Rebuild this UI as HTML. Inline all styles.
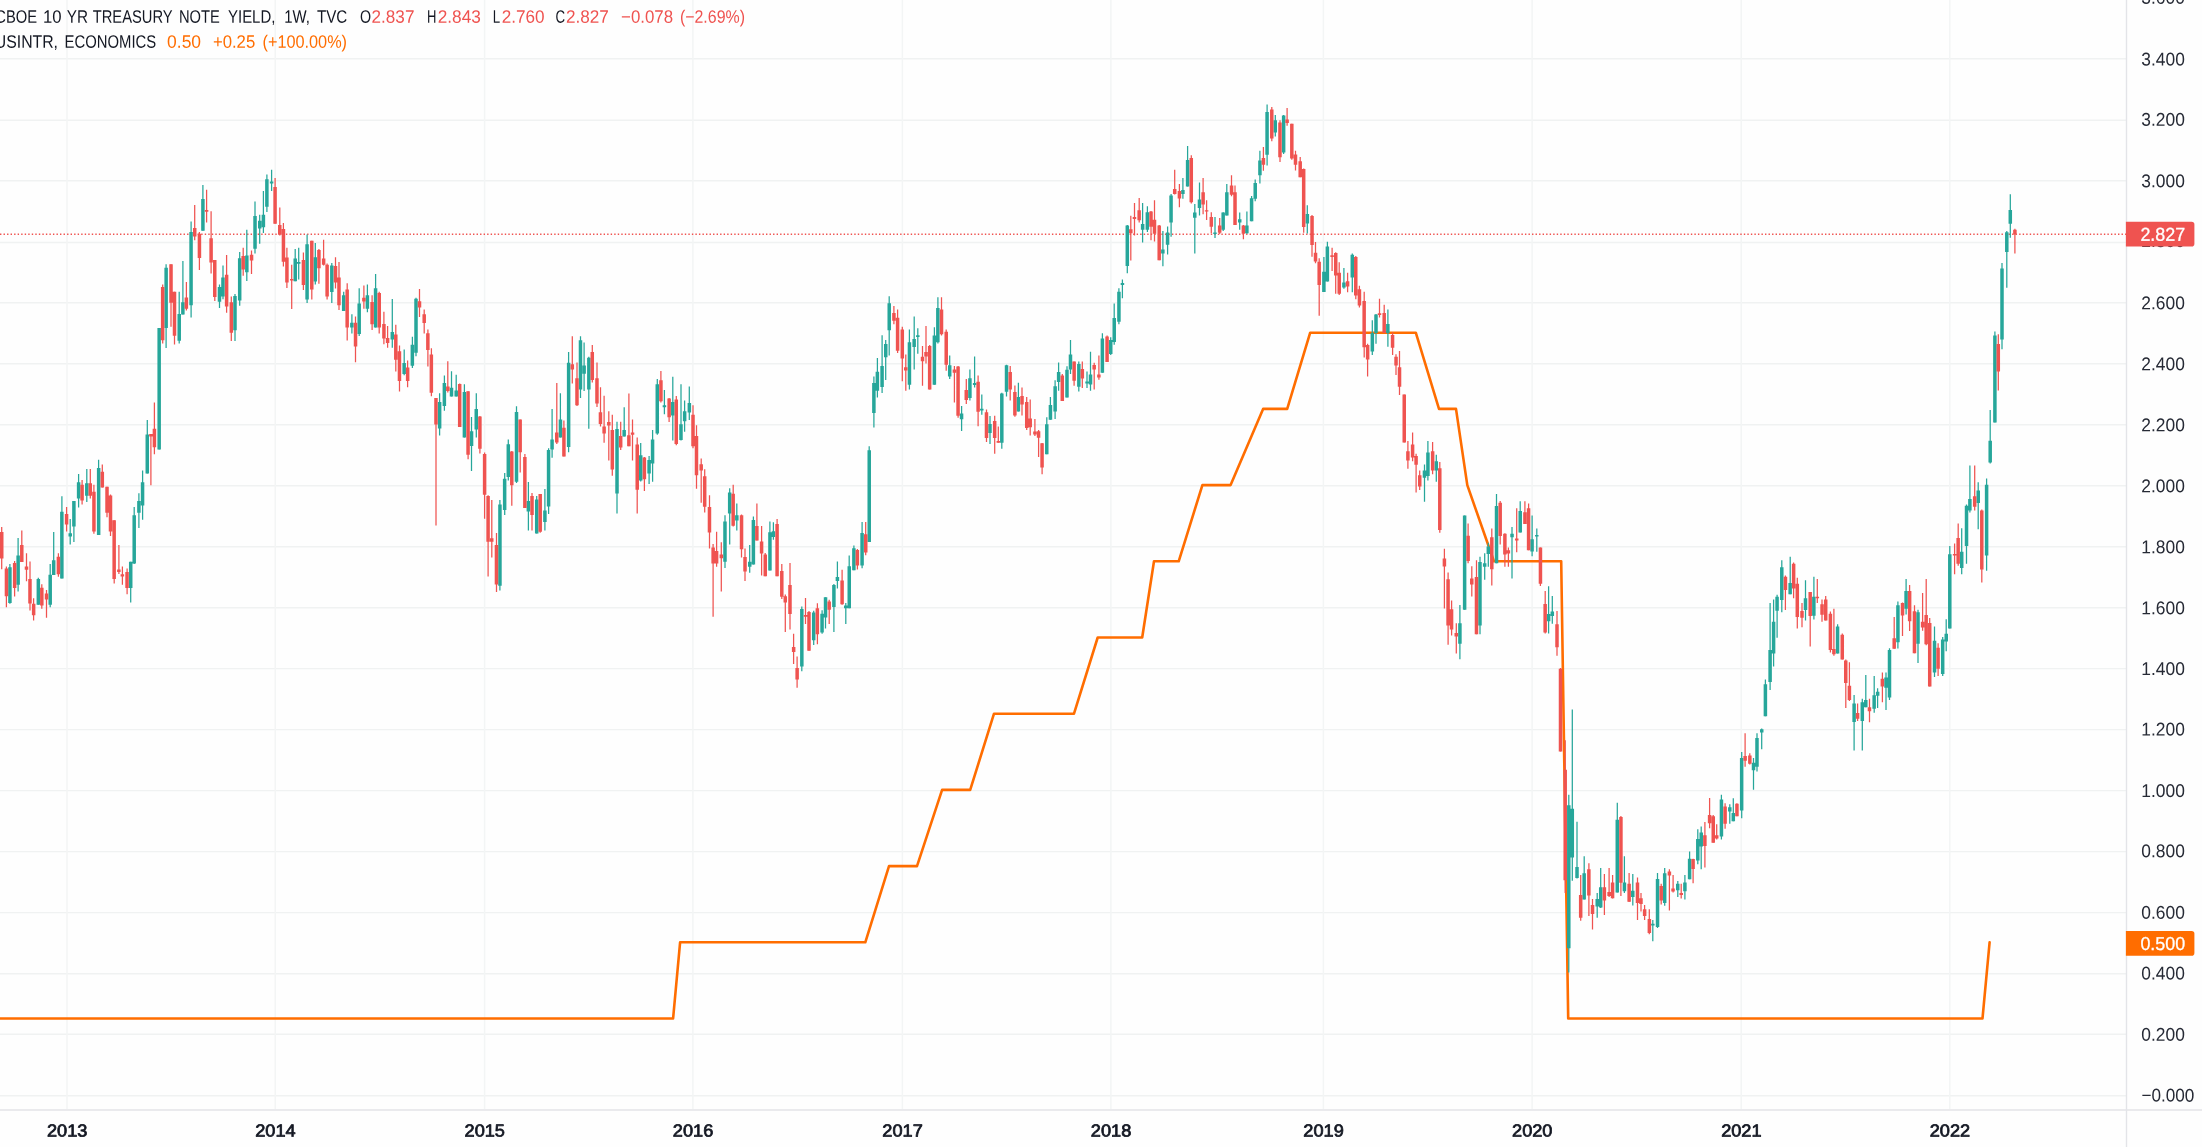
<!DOCTYPE html>
<html><head><meta charset="utf-8"><title>CBOE 10 YR TREASURY NOTE YIELD</title>
<style>html,body{margin:0;padding:0;background:#fefefe;overflow:hidden}body{width:2202px;height:1147px;position:relative;font-family:"Liberation Sans",sans-serif}</style>
</head><body>
<svg width="2202" height="1147" viewBox="0 0 2202 1147" style="position:absolute;left:0;top:0;will-change:transform;font-family:'Liberation Sans',sans-serif">
<rect width="2202" height="1147" fill="#fefefe"/>
<path d="M0 1095.8H2126M0 1034.3H2126M0 973.7H2126M0 912.6H2126M0 851.6H2126M0 790.6H2126M0 729.6H2126M0 668.6H2126M0 607.7H2126M0 546.7H2126M0 485.7H2126M0 424.7H2126M0 363.7H2126M0 302.8H2126M0 242.5H2126M0 180.8H2126M0 120.2H2126M0 58.8H2126" stroke="#f0f2f2" stroke-width="1.4" fill="none"/>
<path d="M67.0 0V1109M275.3 0V1109M484.6 0V1109M692.9 0V1109M902.4 0V1109M1110.9 0V1109M1323.4 0V1109M1532.1 0V1109M1741.2 0V1109M1949.8 0V1109" stroke="#f3f5f5" stroke-width="1.5" fill="none"/>
<path d="M2126.5 0V1147M0 1110H2202" stroke="#e3e4e8" stroke-width="1.4" fill="none"/>
<path d="M0 234.2H2126" stroke="#ef5350" stroke-width="1.45" stroke-dasharray="1.4 2.13" fill="none"/>
<path d="M-5.0 1018.5L673.1 1018.5L680.1 942.3L865.3 942.3L889.0 866.1L917.0 866.1L942.1 789.9L970.2 789.9L994.0 713.7L1074.0 713.7L1097.7 637.5L1142.2 637.5L1154.0 561.3L1178.7 561.3L1202.4 485.1L1230.6 485.1L1263.1 408.9L1287.2 408.9L1310.2 332.7L1415.8 332.7L1439.0 408.9L1456.0 408.9L1467.3 485.1L1493.9 561.3L1561.2 561.3L1568.2 1018.5L1982.5 1018.5L1989.6 942.3" stroke="#ff6d00" stroke-width="2.6" fill="none" stroke-linejoin="round" stroke-linecap="round"/>
<path d="M9.9 564.1V603.8M18.1 538.0V591.6M38.3 577.7V604.7M50.2 564.1V607.3M53.7 532.0V575.1M61.9 496.3V578.6M70.2 519.0V544.6M73.9 501.0V542.0M78.6 474.0V507.6M86.8 469.1V501.9M98.6 459.7V535.0M130.7 561.7V602.4M134.2 507.1V564.1M138.9 493.2V528.0M142.6 470.5V519.7M147.3 420.0V473.5M159.2 328.0V449.6M166.1 264.3V348.0M179.2 291.7V343.6M182.9 260.9V314.5M191.1 221.6V317.5M202.9 185.0V230.7M219.5 284.4V307.9M223.0 265.6V299.2M235.0 294.0V341.0M239.7 252.1V305.8M246.8 229.8V280.9M255.0 201.6V253.5M259.7 214.7V243.8M263.4 191.1V233.0M266.9 174.6V212.1M271.6 169.7V191.1M295.2 249.0V281.2M298.7 247.8V279.5M307.1 234.5V303.0M315.3 242.9V284.4M331.8 262.9V303.0M343.7 291.7V310.9M351.9 314.3V333.5M359.2 288.2V336.1M367.4 284.4V312.3M375.6 273.9V327.4M392.3 299.0V347.8M404.2 349.6V375.3M412.4 336.7V368.0M416.0 297.8V356.2M439.6 393.3V435.4M444.4 375.5V410.8M451.5 371.2V396.5M456.2 374.7V396.5M464.4 384.3V437.4M471.5 417.0V471.1M476.3 393.3V437.4M499.9 499.9V590.6M504.7 472.9V514.9M508.3 439.4V480.4M516.5 406.3V483.0M528.4 482.1V530.6M536.7 496.1V533.6M544.9 489.1V530.6M548.6 448.2V513.9M552.1 409.0V457.8M560.4 393.3V437.4M568.6 352.0V452.2M580.5 336.3V397.9M584.1 342.4V390.9M588.8 356.7V428.7M617.0 421.8V513.6M624.2 407.3V436.6M640.7 443.1V481.4M649.1 456.1V484.0M652.6 430.0V481.8M657.3 379.1V434.7M664.4 389.9V414.3M672.8 376.8V440.4M681.0 384.2V440.4M684.6 400.4V431.7M689.3 386.4V420.1M725.0 515.3V568.1M729.7 488.3V544.4M736.8 503.6V530.4M749.7 544.9V572.8M753.4 516.5V564.6M769.9 521.4V570.5M773.4 522.2V539.7M801.8 606.4V671.3M813.7 610.8V645.1M822.1 610.3V633.8M825.5 597.2V628.6M833.9 584.1V632.0M837.4 561.5V588.5M845.8 602.9V623.9M849.2 555.4V608.2M853.9 545.6V570.3M862.1 522.0V568.2M869.2 446.2V542.1M873.9 376.5V427.6M877.4 357.9V397.4M882.1 335.2V393.1M885.7 339.9V380.0M889.2 296.3V355.6M909.4 329.4V389.6M914.2 316.4V369.5M917.8 328.2V353.8M934.4 327.2V384.7M937.9 297.2V343.4M949.7 355.6V379.1M961.6 406.1V431.1M969.9 369.5V400.4M974.6 356.5V387.5M981.8 394.5V414.8M990.0 416.1V444.0M1001.8 392.7V448.8M1006.5 364.8V396.5M1018.4 382.8V411.6M1046.8 417.3V454.3M1050.4 397.1V419.8M1055.1 380.2V418.9M1058.6 362.4V390.7M1067.0 366.3V397.6M1070.5 340.1V374.1M1078.8 361.4V391.5M1087.0 371.5V388.1M1090.5 351.8V390.7M1102.4 333.2V372.7M1110.7 337.2V354.9M1114.2 303.5V344.8M1118.9 288.3V324.3M1122.4 279.5V298.2M1127.3 225.0V273.3M1142.6 202.9V242.4M1147.4 206.2V232.0M1162.9 231.1V266.3M1167.6 226.4V254.6M1171.1 194.1V236.7M1182.9 177.9V198.8M1187.6 146.0V186.6M1194.8 204.1V253.4M1199.5 182.6V215.4M1215.0 217.1V238.1M1223.2 212.3V231.1M1226.8 184.0V215.4M1239.7 212.4V229.7M1246.9 211.4V233.7M1251.6 195.9V221.2M1255.2 179.5V201.3M1259.9 150.8V183.5M1267.1 104.6V165.6M1275.3 115.0V136.5M1283.6 115.0V153.9M1307.3 205.2V233.6M1323.9 257.1V291.9M1327.4 241.7V281.5M1343.9 267.9V288.8M1352.3 253.6V292.3M1372.3 320.2V355.0M1376.0 314.1V343.7M1387.9 309.4V346.7M1424.5 464.4V501.7M1427.9 440.9V480.4M1436.3 454.8V481.7M1459.9 605.1V659.2M1464.6 515.4V609.8M1480.0 556.7V634.2M1484.7 553.2V579.7M1488.3 542.7V566.8M1496.5 493.9V563.3M1512.0 527.1V578.5M1520.2 501.3V532.6M1532.1 515.4V556.3M1536.8 528.5V551.8M1548.6 586.3V633.4M1552.3 595.9V623.8M1568.8 794.8V972.6M1572.3 709.4V880.7M1577.0 821.8V878.5M1584.2 856.2V899.4M1597.2 892.9V917.7M1600.7 868.0V908.1M1617.3 802.7V892.4M1624.4 856.2V892.9M1632.8 874.1V905.5M1652.8 920.0V941.2M1657.5 872.9V928.1M1664.7 868.0V905.8M1677.8 881.1V897.1M1684.9 875.0V899.4M1689.6 851.5V879.3M1697.8 829.2V864.2M1701.2 826.4V869.2M1721.4 794.7V839.5M1729.8 804.3V823.8M1733.3 798.2V821.2M1741.7 751.9V818.3M1753.5 758.1V789.8M1757.0 733.2V771.5M1761.7 728.4V749.3M1765.4 679.6V716.2M1770.1 602.9V690.1M1773.6 599.4V666.5M1777.1 594.7V637.8M1781.8 560.2V612.2M1790.2 556.7V594.2M1805.5 580.3V620.4M1813.9 576.8V619.5M1837.6 624.2V653.5M1854.1 695.0V750.6M1862.3 698.8V750.6M1865.8 674.9V707.2M1874.2 676.1V712.7M1877.6 688.3V708.0M1886.0 672.6V710.1M1889.5 648.2V700.0M1897.9 601.4V648.5M1906.1 579.0V614.6M1918.0 609.8V663.1M1934.5 626.5V677.1M1942.7 637.0V676.1M1946.2 619.2V651.2M1949.8 546.0V628.6M1961.7 528.2V574.2M1966.5 504.6V563.8M1969.9 465.5V512.5M1978.2 482.2V529.2M1986.6 478.4V570.7M1990.2 410.0V463.5M1994.9 331.6V422.4M2002.0 263.1V349.2M2006.8 231.0V287.7M2010.3 194.3V237.8" stroke="#26a69a" stroke-width="1.25" fill="none"/>
<path d="M8.18 567.2h3.5V603.0h-3.5zM16.38 555.6h3.5V584.7h-3.5zM36.59 578.9h3.5V604.7h-3.5zM48.45 574.7h3.5V604.7h-3.5zM51.93 560.3h3.5V575.1h-3.5zM60.12 511.8h3.5V578.6h-3.5zM68.49 533.2h3.5V536.4h-3.5zM72.15 501.0h3.5V526.6h-3.5zM76.86 482.2h3.5V498.4h-3.5zM85.05 483.2h3.5V495.8h-3.5zM96.90 467.9h3.5V535.0h-3.5zM128.97 561.7h3.5V588.1h-3.5zM132.45 515.3h3.5V563.4h-3.5zM137.16 501.0h3.5V512.7h-3.5zM140.82 482.2h3.5V505.4h-3.5zM145.53 434.4h3.5V473.5h-3.5zM157.42 328.0h3.5V449.6h-3.5zM164.39 267.8h3.5V328.0h-3.5zM177.47 314.0h3.5V340.7h-3.5zM181.13 302.2h3.5V314.5h-3.5zM189.32 232.1h3.5V305.3h-3.5zM201.17 199.0h3.5V230.7h-3.5zM217.73 287.0h3.5V301.8h-3.5zM221.21 277.4h3.5V296.6h-3.5zM233.24 296.1h3.5V330.2h-3.5zM237.94 258.2h3.5V300.6h-3.5zM245.09 255.6h3.5V272.2h-3.5zM253.28 215.9h3.5V248.7h-3.5zM257.99 220.8h3.5V228.6h-3.5zM261.65 214.7h3.5V227.2h-3.5zM265.13 179.3h3.5V206.8h-3.5zM269.84 181.6h3.5V183.6h-3.5zM293.48 258.6h3.5V281.2h-3.5zM296.96 262.1h3.5V263.8h-3.5zM305.33 244.3h3.5V299.5h-3.5zM313.52 257.2h3.5V281.6h-3.5zM330.08 265.5h3.5V292.0h-3.5zM341.93 295.2h3.5V310.9h-3.5zM350.12 322.7h3.5V327.4h-3.5zM357.44 303.5h3.5V333.9h-3.5zM365.64 295.2h3.5V308.8h-3.5zM373.83 288.2h3.5V327.4h-3.5zM390.56 332.1h3.5V339.6h-3.5zM402.41 363.1h3.5V374.0h-3.5zM410.60 344.8h3.5V365.8h-3.5zM414.26 298.7h3.5V352.7h-3.5zM437.89 402.0h3.5V428.5h-3.5zM442.61 382.9h3.5V406.0h-3.5zM449.75 387.7h3.5V396.5h-3.5zM454.46 390.4h3.5V396.5h-3.5zM462.65 392.1h3.5V437.4h-3.5zM469.80 431.3h3.5V446.1h-3.5zM474.50 409.0h3.5V429.6h-3.5zM498.20 504.5h3.5V585.8h-3.5zM502.90 478.7h3.5V510.0h-3.5zM506.56 444.2h3.5V476.9h-3.5zM514.75 412.1h3.5V481.8h-3.5zM526.61 501.0h3.5V511.4h-3.5zM534.97 499.6h3.5V533.6h-3.5zM543.16 510.4h3.5V521.9h-3.5zM546.82 449.9h3.5V506.5h-3.5zM550.32 439.5h3.5V449.6h-3.5zM558.69 419.5h3.5V437.4h-3.5zM566.88 362.8h3.5V447.0h-3.5zM578.73 340.3h3.5V389.5h-3.5zM582.39 365.4h3.5V373.8h-3.5zM587.10 357.8h3.5V389.5h-3.5zM615.27 429.1h3.5V493.6h-3.5zM622.41 430.0h3.5V436.6h-3.5zM638.97 455.3h3.5V480.5h-3.5zM647.33 460.0h3.5V473.6h-3.5zM650.82 439.6h3.5V463.6h-3.5zM655.53 384.2h3.5V433.5h-3.5zM662.67 405.2h3.5V407.3h-3.5zM671.04 402.1h3.5V415.5h-3.5zM679.23 424.2h3.5V440.1h-3.5zM682.89 411.2h3.5V421.3h-3.5zM687.60 403.0h3.5V412.6h-3.5zM723.23 521.4h3.5V561.8h-3.5zM727.93 492.6h3.5V513.5h-3.5zM735.08 515.3h3.5V520.5h-3.5zM747.98 561.8h3.5V566.7h-3.5zM751.64 520.0h3.5V564.6h-3.5zM768.20 532.2h3.5V570.5h-3.5zM771.68 531.3h3.5V537.1h-3.5zM800.09 609.0h3.5V666.6h-3.5zM811.94 612.5h3.5V640.2h-3.5zM820.31 613.7h3.5V632.6h-3.5zM823.79 597.2h3.5V617.6h-3.5zM832.16 585.0h3.5V607.1h-3.5zM835.65 577.1h3.5V581.0h-3.5zM844.01 605.4h3.5V608.2h-3.5zM847.50 566.2h3.5V608.2h-3.5zM852.14 548.2h3.5V570.3h-3.5zM860.33 533.0h3.5V565.6h-3.5zM867.48 450.2h3.5V542.1h-3.5zM872.14 383.0h3.5V413.1h-3.5zM875.62 371.8h3.5V390.8h-3.5zM880.33 366.0h3.5V387.0h-3.5zM883.99 343.9h3.5V357.3h-3.5zM887.48 303.3h3.5V330.3h-3.5zM907.69 342.2h3.5V384.7h-3.5zM912.40 339.0h3.5V346.9h-3.5zM916.06 335.2h3.5V336.9h-3.5zM932.62 335.5h3.5V384.7h-3.5zM936.10 308.0h3.5V342.2h-3.5zM947.96 365.2h3.5V376.5h-3.5zM959.81 413.6h3.5V419.2h-3.5zM968.17 378.2h3.5V397.9h-3.5zM972.88 383.0h3.5V384.9h-3.5zM980.03 408.7h3.5V410.5h-3.5zM988.22 423.9h3.5V433.1h-3.5zM1000.07 393.4h3.5V442.7h-3.5zM1004.78 365.2h3.5V391.7h-3.5zM1016.62 397.1h3.5V411.6h-3.5zM1045.03 424.3h3.5V454.3h-3.5zM1048.69 405.1h3.5V419.8h-3.5zM1053.39 386.3h3.5V411.6h-3.5zM1056.88 372.0h3.5V382.0h-3.5zM1065.24 369.8h3.5V397.6h-3.5zM1068.73 354.6h3.5V369.4h-3.5zM1077.10 364.0h3.5V386.7h-3.5zM1085.29 381.6h3.5V383.4h-3.5zM1088.77 374.6h3.5V384.6h-3.5zM1100.62 338.4h3.5V372.7h-3.5zM1108.99 340.1h3.5V354.1h-3.5zM1112.48 318.0h3.5V341.9h-3.5zM1117.19 291.7h3.5V321.7h-3.5zM1120.68 283.0h3.5V285.1h-3.5zM1125.56 225.5h3.5V265.9h-3.5zM1140.90 224.1h3.5V229.7h-3.5zM1145.60 212.3h3.5V229.7h-3.5zM1161.11 249.4h3.5V253.4h-3.5zM1165.82 232.5h3.5V244.7h-3.5zM1169.31 195.4h3.5V222.4h-3.5zM1181.16 190.1h3.5V194.0h-3.5zM1185.86 160.0h3.5V186.6h-3.5zM1193.01 212.4h3.5V217.7h-3.5zM1197.72 199.4h3.5V208.1h-3.5zM1213.23 232.5h3.5V234.1h-3.5zM1221.42 212.4h3.5V229.7h-3.5zM1225.08 192.2h3.5V215.4h-3.5zM1237.98 219.2h3.5V222.4h-3.5zM1245.12 225.5h3.5V233.2h-3.5zM1249.83 198.3h3.5V221.2h-3.5zM1253.48 183.0h3.5V198.7h-3.5zM1258.18 160.4h3.5V175.2h-3.5zM1265.33 112.1h3.5V154.8h-3.5zM1273.52 120.3h3.5V132.5h-3.5zM1281.89 115.6h3.5V152.5h-3.5zM1305.59 213.9h3.5V223.6h-3.5zM1322.14 271.7h3.5V291.9h-3.5zM1325.62 246.6h3.5V281.5h-3.5zM1342.18 282.4h3.5V287.6h-3.5zM1350.55 254.8h3.5V277.5h-3.5zM1370.59 332.9h3.5V351.5h-3.5zM1374.25 314.4h3.5V332.9h-3.5zM1386.10 324.0h3.5V332.9h-3.5zM1422.71 470.5h3.5V477.8h-3.5zM1426.19 452.6h3.5V476.1h-3.5zM1434.56 461.3h3.5V470.5h-3.5zM1458.17 623.3h3.5V643.8h-3.5zM1462.88 515.4h3.5V609.8h-3.5zM1478.22 561.9h3.5V625.5h-3.5zM1482.92 563.3h3.5V566.8h-3.5zM1486.58 546.6h3.5V554.1h-3.5zM1494.78 506.1h3.5V563.3h-3.5zM1510.29 533.7h3.5V537.2h-3.5zM1518.48 511.0h3.5V532.6h-3.5zM1530.33 539.3h3.5V551.5h-3.5zM1535.04 534.9h3.5V536.6h-3.5zM1546.89 613.9h3.5V621.2h-3.5zM1550.55 611.6h3.5V615.9h-3.5zM1567.05 805.3h3.5V948.2h-3.5zM1570.55 808.8h3.5V857.6h-3.5zM1575.27 867.1h3.5V878.0h-3.5zM1582.41 873.2h3.5V899.4h-3.5zM1595.48 899.0h3.5V906.4h-3.5zM1598.97 887.2h3.5V907.6h-3.5zM1615.53 819.7h3.5V892.4h-3.5zM1622.67 882.5h3.5V891.2h-3.5zM1631.04 890.7h3.5V897.1h-3.5zM1651.08 923.8h3.5V925.5h-3.5zM1655.79 879.0h3.5V926.9h-3.5zM1662.93 873.2h3.5V902.9h-3.5zM1676.01 883.7h3.5V890.2h-3.5zM1683.15 882.5h3.5V891.2h-3.5zM1687.86 858.8h3.5V879.3h-3.5zM1696.05 838.9h3.5V860.5h-3.5zM1699.47 832.5h3.5V846.5h-3.5zM1719.69 799.4h3.5V836.6h-3.5zM1728.05 807.3h3.5V811.6h-3.5zM1731.54 813.0h3.5V821.2h-3.5zM1739.91 758.1h3.5V810.4h-3.5zM1751.76 762.8h3.5V770.2h-3.5zM1755.24 737.9h3.5V766.7h-3.5zM1759.99 729.3h3.5V732.4h-3.5zM1763.65 684.3h3.5V716.2h-3.5zM1768.36 650.0h3.5V681.9h-3.5zM1771.84 621.8h3.5V653.5h-3.5zM1775.33 596.8h3.5V610.8h-3.5zM1780.04 567.2h3.5V600.0h-3.5zM1788.40 582.9h3.5V594.2h-3.5zM1803.74 598.2h3.5V609.9h-3.5zM1812.11 596.8h3.5V615.7h-3.5zM1835.81 626.5h3.5V653.5h-3.5zM1852.37 703.5h3.5V722.0h-3.5zM1860.56 702.3h3.5V720.9h-3.5zM1864.05 700.0h3.5V707.2h-3.5zM1872.41 695.3h3.5V708.7h-3.5zM1875.90 691.8h3.5V695.8h-3.5zM1884.26 677.5h3.5V687.8h-3.5zM1887.75 650.0h3.5V697.6h-3.5zM1896.18 605.2h3.5V642.2h-3.5zM1904.33 590.9h3.5V608.7h-3.5zM1916.26 612.3h3.5V643.7h-3.5zM1932.78 640.7h3.5V672.5h-3.5zM1940.94 639.5h3.5V674.0h-3.5zM1944.49 633.8h3.5V641.6h-3.5zM1948.05 554.3h3.5V628.6h-3.5zM1959.97 551.8h3.5V567.9h-3.5zM1964.78 505.8h3.5V546.0h-3.5zM1968.13 498.9h3.5V510.4h-3.5zM1976.49 490.6h3.5V503.1h-3.5zM1984.86 484.7h3.5V555.4h-3.5zM1988.45 440.7h3.5V462.4h-3.5zM1993.15 335.6h3.5V422.4h-3.5zM2000.25 268.4h3.5V339.5h-3.5zM2005.05 232.3h3.5V251.9h-3.5zM2008.55 210.0h3.5V223.7h-3.5z" fill="#26a69a"/>
<path d="M1.7 527.1V569.3M6.4 566.4V607.3M14.6 561.1V596.5M21.8 530.6V562.0M26.5 553.3V581.2M30.0 561.5V610.5M33.6 598.3V620.4M41.8 584.3V608.7M46.5 589.9V617.8M58.4 553.3V576.8M66.6 507.1V531.5M82.1 480.1V504.5M90.3 469.1V498.4M93.9 484.8V533.8M102.3 464.4V487.4M107.0 486.7V517.2M110.5 494.4V535.9M114.2 520.2V583.4M118.9 544.9V573.9M122.4 566.4V584.7M127.1 568.6V594.2M150.9 433.9V485.3M154.4 402.5V454.3M162.7 284.4V343.6M171.0 264.3V326.7M174.5 291.7V344.5M186.4 282.1V310.5M194.7 205.1V240.3M199.4 232.1V269.9M206.6 189.7V222.5M211.1 211.2V273.4M214.8 260.0V300.9M226.6 255.1V312.8M231.3 296.6V341.0M243.2 247.8V275.7M251.5 250.4V273.9M275.1 178.1V223.7M279.8 207.4V235.6M283.4 222.9V266.6M286.9 247.8V287.9M291.7 264.7V309.1M303.4 252.5V289.9M311.8 240.8V299.5M318.9 249.0V283.8M323.6 239.7V265.5M327.1 263.5V299.5M335.5 257.2V288.6M339.0 262.1V310.0M347.2 283.3V340.5M355.5 316.4V362.3M363.9 285.6V308.8M372.1 295.2V330.0M379.2 291.7V333.5M383.9 311.7V344.3M387.6 326.0V347.8M395.8 324.8V371.5M399.5 345.4V391.6M407.6 360.5V387.2M419.5 289.1V317.0M424.2 309.5V333.5M427.9 329.5V366.6M431.4 348.3V396.3M436.0 398.1V525.4M447.8 361.3V392.6M459.7 383.4V427.0M468.1 391.2V459.2M479.9 416.0V453.6M484.6 452.5V518.7M488.1 495.2V576.6M491.8 499.9V557.4M496.5 533.0V591.9M511.8 451.1V505.7M520.2 419.4V472.6M524.9 453.9V507.9M532.0 493.0V530.6M540.2 494.0V532.7M556.8 382.9V443.9M563.9 420.5V456.6M572.3 336.3V383.4M577.0 362.5V406.0M592.3 345.1V382.4M597.0 362.5V407.0M600.5 387.3V426.5M604.1 395.7V442.7M608.8 411.2V460.5M612.3 414.7V475.8M620.7 421.8V450.0M628.9 393.4V446.2M632.5 419.5V460.5M637.2 437.5V513.6M644.4 457.0V491.0M660.9 371.1V402.6M669.1 398.1V422.1M676.3 396.0V445.2M693.0 405.2V448.3M696.5 425.3V488.7M701.2 458.4V502.7M704.7 469.2V512.4M709.5 495.2V548.4M713.1 544.0V616.7M716.6 531.8V566.7M721.3 542.3V591.6M733.2 484.8V526.6M741.5 514.4V557.6M745.0 548.4V581.0M756.9 503.6V540.5M761.6 526.1V575.4M765.2 553.1V576.3M777.1 519.1V576.3M781.8 564.1V598.9M785.3 594.6V632.0M790.0 562.9V629.4M793.6 633.8V663.9M797.1 656.4V687.8M805.5 598.1V623.9M809.0 611.1V650.7M817.4 603.3V644.2M829.2 599.8V623.9M842.1 569.8V604.7M857.4 549.1V569.6M865.7 522.0V555.2M893.9 305.9V324.2M897.6 309.4V353.0M902.3 326.8V381.2M905.8 354.4V390.8M922.5 346.0V385.7M926.0 326.0V363.4M929.7 345.1V389.6M941.5 297.2V335.5M946.2 329.4V370.8M954.4 366.0V402.6M958.1 366.0V417.8M966.3 379.1V403.9M978.1 375.6V426.2M986.5 409.6V441.9M994.7 415.7V453.7M998.3 426.5V442.7M1010.2 366.0V400.4M1014.9 385.4V416.8M1022.0 387.5V415.6M1026.7 397.1V429.9M1030.2 399.4V435.6M1034.9 419.1V436.0M1038.6 429.9V456.9M1042.1 443.0V474.3M1062.3 374.1V401.1M1074.1 361.4V385.8M1082.3 361.4V388.1M1094.2 362.8V389.5M1098.9 355.5V379.7M1107.1 335.4V361.9M1130.8 215.8V260.4M1134.5 202.9V235.4M1139.2 198.0V222.4M1151.0 211.0V240.3M1154.5 200.2V241.5M1159.2 225.0V260.2M1174.7 169.7V194.5M1179.4 184.0V207.2M1191.3 155.3V203.6M1203.1 177.9V214.2M1206.6 200.2V220.1M1211.3 212.3V233.2M1219.7 218.0V234.1M1231.5 175.3V196.2M1235.0 185.4V225.0M1243.4 225.0V239.3M1263.4 146.9V170.8M1271.8 106.9V141.2M1280.0 120.3V162.1M1287.1 108.1V125.8M1291.8 123.8V159.8M1295.5 150.8V170.5M1300.2 156.9V177.3M1303.7 168.6V232.7M1312.0 214.9V256.7M1315.5 241.9V263.2M1319.2 258.3V315.8M1332.1 247.8V271.0M1335.7 252.2V293.7M1339.2 262.3V294.9M1347.6 272.8V292.3M1355.8 256.0V299.3M1359.4 285.7V307.6M1364.2 291.8V357.6M1367.6 343.7V376.5M1379.5 298.7V317.6M1384.2 304.8V332.9M1392.6 332.4V355.0M1396.0 354.2V375.1M1399.5 351.0V395.1M1404.2 394.5V442.6M1407.9 440.9V468.8M1412.6 432.5V461.3M1416.1 453.8V492.6M1419.7 470.5V490.0M1432.6 442.1V474.3M1439.8 462.1V532.7M1444.4 548.8V608.6M1448.1 572.4V644.7M1451.6 600.6V635.5M1456.3 623.3V653.4M1468.1 523.6V563.3M1471.8 566.3V596.4M1476.5 560.2V634.2M1491.8 528.5V585.4M1500.2 500.9V544.5M1504.9 533.2V566.8M1508.4 547.6V566.8M1516.7 508.2V552.3M1524.9 501.3V524.1M1528.6 503.5V550.2M1540.4 547.5V586.0M1545.2 591.0V633.4M1557.0 611.1V655.7M1560.5 667.9V751.5M1565.2 740.2V893.0M1580.7 875.0V920.8M1588.9 863.3V915.9M1592.5 899.0V929.5M1604.4 874.1V915.1M1609.1 868.0V897.1M1612.6 875.0V898.5M1620.9 816.1V895.9M1629.1 872.9V902.0M1637.5 877.6V920.0M1641.0 892.9V911.6M1644.6 905.0V920.0M1649.3 909.3V934.2M1661.2 883.7V904.6M1669.4 869.2V910.4M1673.1 875.0V892.4M1681.2 883.7V898.5M1693.1 858.8V883.2M1704.9 822.1V867.4M1709.6 798.0V828.2M1713.2 815.1V842.7M1716.7 824.2V839.5M1725.1 803.3V828.7M1736.9 803.3V816.3M1745.1 733.2V766.7M1749.8 753.2V764.6M1785.4 575.6V609.9M1793.6 562.5V598.2M1797.3 577.7V628.6M1802.0 602.9V627.3M1810.2 591.9V646.5M1817.3 579.1V602.9M1822.0 599.4V621.8M1825.7 596.0V620.4M1830.4 611.6V652.6M1833.9 608.7V655.7M1842.3 633.4V659.6M1845.8 659.6V708.0M1849.4 662.2V701.1M1857.6 703.5V720.9M1869.5 698.8V722.3M1882.4 672.6V702.3M1894.2 616.9V648.8M1902.5 602.5V635.9M1909.6 585.1V631.1M1914.5 605.2V653.3M1922.6 593.0V630.7M1926.2 579.0V645.3M1929.7 618.1V686.5M1938.1 643.2V676.1M1954.6 543.5V574.2M1958.2 523.4V565.8M1974.7 465.5V510.4M1981.8 509.4V582.6M1998.3 334.2V390.5M2014.9 228.7V253.5" stroke="#ef5350" stroke-width="1.25" fill="none"/>
<path d="M-0.01 532.0h3.5V558.5h-3.5zM4.70 568.6h3.5V596.3h-3.5zM12.89 562.9h3.5V588.1h-3.5zM20.04 545.1h3.5V562.0h-3.5zM24.74 566.4h3.5V569.8h-3.5zM28.23 579.1h3.5V603.5h-3.5zM31.89 603.8h3.5V615.2h-3.5zM40.08 587.8h3.5V605.6h-3.5zM44.79 593.4h3.5V599.5h-3.5zM56.64 556.8h3.5V574.2h-3.5zM64.83 514.1h3.5V524.5h-3.5zM80.34 484.8h3.5V500.5h-3.5zM88.53 483.2h3.5V495.8h-3.5zM92.19 491.8h3.5V531.5h-3.5zM100.56 471.7h3.5V487.4h-3.5zM105.27 486.7h3.5V512.7h-3.5zM108.75 495.4h3.5V531.5h-3.5zM112.41 520.2h3.5V578.9h-3.5zM117.12 569.5h3.5V571.9h-3.5zM120.60 574.2h3.5V576.5h-3.5zM125.31 572.1h3.5V588.1h-3.5zM149.19 433.9h3.5V436.5h-3.5zM152.67 428.7h3.5V447.3h-3.5zM160.91 287.0h3.5V340.2h-3.5zM169.27 264.3h3.5V302.7h-3.5zM172.76 291.7h3.5V335.8h-3.5zM184.61 297.5h3.5V308.8h-3.5zM192.98 228.1h3.5V236.5h-3.5zM197.68 233.8h3.5V257.9h-3.5zM204.83 210.0h3.5V211.7h-3.5zM209.36 238.2h3.5V262.6h-3.5zM213.02 260.0h3.5V297.1h-3.5zM224.87 274.8h3.5V306.5h-3.5zM229.58 302.2h3.5V332.7h-3.5zM241.43 256.0h3.5V269.6h-3.5zM249.80 254.8h3.5V260.5h-3.5zM273.33 187.1h3.5V223.7h-3.5zM278.03 225.1h3.5V234.7h-3.5zM281.69 229.1h3.5V261.7h-3.5zM285.18 257.4h3.5V282.6h-3.5zM289.99 279.1h3.5V280.4h-3.5zM301.67 260.0h3.5V285.1h-3.5zM310.04 240.8h3.5V289.6h-3.5zM317.18 249.9h3.5V268.2h-3.5zM321.89 258.6h3.5V264.7h-3.5zM325.37 264.7h3.5V296.6h-3.5zM333.74 265.9h3.5V282.6h-3.5zM337.23 277.4h3.5V305.3h-3.5zM345.42 289.4h3.5V327.4h-3.5zM353.78 322.7h3.5V346.6h-3.5zM362.15 297.8h3.5V301.6h-3.5zM370.34 302.1h3.5V324.3h-3.5zM377.49 292.9h3.5V327.4h-3.5zM382.19 323.9h3.5V338.4h-3.5zM385.85 337.9h3.5V343.1h-3.5zM394.05 334.4h3.5V359.7h-3.5zM397.71 351.3h3.5V380.9h-3.5zM405.90 367.5h3.5V380.9h-3.5zM417.75 301.3h3.5V307.4h-3.5zM422.45 314.3h3.5V323.1h-3.5zM426.11 333.2h3.5V350.1h-3.5zM429.60 354.4h3.5V392.8h-3.5zM434.23 398.1h3.5V424.6h-3.5zM446.09 386.4h3.5V390.9h-3.5zM457.94 383.9h3.5V427.0h-3.5zM466.31 391.2h3.5V454.8h-3.5zM478.16 416.5h3.5V448.7h-3.5zM482.86 453.9h3.5V494.7h-3.5zM486.34 496.1h3.5V541.8h-3.5zM490.00 538.3h3.5V541.8h-3.5zM494.71 544.9h3.5V584.6h-3.5zM510.05 451.6h3.5V485.3h-3.5zM518.41 419.4h3.5V452.2h-3.5zM523.12 456.9h3.5V507.9h-3.5zM530.27 496.1h3.5V514.9h-3.5zM538.46 494.0h3.5V531.8h-3.5zM555.03 432.5h3.5V442.6h-3.5zM562.17 427.8h3.5V456.6h-3.5zM570.54 364.2h3.5V369.4h-3.5zM575.24 378.2h3.5V405.2h-3.5zM590.52 352.1h3.5V380.0h-3.5zM595.22 378.2h3.5V403.5h-3.5zM598.71 412.2h3.5V423.9h-3.5zM602.37 426.5h3.5V433.5h-3.5zM607.07 422.1h3.5V425.6h-3.5zM610.56 430.0h3.5V469.6h-3.5zM618.93 436.1h3.5V447.4h-3.5zM627.12 435.2h3.5V446.2h-3.5zM630.78 432.6h3.5V434.7h-3.5zM635.48 444.5h3.5V489.8h-3.5zM642.63 457.5h3.5V479.3h-3.5zM659.19 380.3h3.5V401.2h-3.5zM667.38 398.6h3.5V417.3h-3.5zM674.52 399.5h3.5V443.9h-3.5zM691.26 414.8h3.5V446.2h-3.5zM694.74 436.1h3.5V475.3h-3.5zM699.45 464.3h3.5V470.6h-3.5zM702.93 476.2h3.5V506.7h-3.5zM707.72 507.1h3.5V532.4h-3.5zM711.38 547.5h3.5V563.6h-3.5zM714.86 551.0h3.5V563.6h-3.5zM719.57 554.5h3.5V558.3h-3.5zM731.42 493.8h3.5V525.7h-3.5zM739.79 515.3h3.5V549.3h-3.5zM743.27 557.1h3.5V571.6h-3.5zM755.12 526.1h3.5V540.5h-3.5zM759.83 541.4h3.5V553.6h-3.5zM763.49 554.5h3.5V576.3h-3.5zM775.34 524.0h3.5V576.3h-3.5zM780.05 571.0h3.5V596.7h-3.5zM783.53 596.3h3.5V602.4h-3.5zM788.24 585.0h3.5V614.1h-3.5zM791.90 646.9h3.5V652.1h-3.5zM795.39 668.1h3.5V679.5h-3.5zM803.75 615.0h3.5V616.7h-3.5zM807.24 612.0h3.5V650.7h-3.5zM815.60 608.2h3.5V634.3h-3.5zM827.45 601.5h3.5V609.7h-3.5zM840.35 580.6h3.5V604.2h-3.5zM855.62 549.9h3.5V565.6h-3.5zM863.99 534.2h3.5V552.5h-3.5zM892.18 312.9h3.5V320.7h-3.5zM895.84 317.8h3.5V350.7h-3.5zM900.55 329.4h3.5V358.6h-3.5zM904.03 367.3h3.5V370.4h-3.5zM920.77 356.8h3.5V361.2h-3.5zM924.25 352.1h3.5V356.5h-3.5zM927.91 346.0h3.5V389.6h-3.5zM939.76 309.4h3.5V334.2h-3.5zM944.47 331.7h3.5V364.8h-3.5zM952.66 369.5h3.5V372.7h-3.5zM956.32 366.4h3.5V415.7h-3.5zM964.51 389.9h3.5V400.0h-3.5zM976.37 381.7h3.5V411.7h-3.5zM984.73 412.2h3.5V438.0h-3.5zM992.92 420.9h3.5V438.0h-3.5zM996.58 441.0h3.5V442.7h-3.5zM1008.44 372.1h3.5V389.6h-3.5zM1013.13 392.1h3.5V415.6h-3.5zM1020.28 395.9h3.5V404.6h-3.5zM1024.98 402.0h3.5V428.1h-3.5zM1028.47 418.6h3.5V427.3h-3.5zM1033.17 431.6h3.5V434.6h-3.5zM1036.83 431.3h3.5V437.7h-3.5zM1040.32 443.3h3.5V467.4h-3.5zM1060.54 375.5h3.5V401.1h-3.5zM1072.39 361.4h3.5V380.7h-3.5zM1080.58 368.9h3.5V378.5h-3.5zM1092.43 365.1h3.5V369.4h-3.5zM1097.14 374.6h3.5V377.6h-3.5zM1105.33 336.6h3.5V361.9h-3.5zM1129.05 229.3h3.5V233.2h-3.5zM1132.71 217.1h3.5V218.9h-3.5zM1137.41 210.2h3.5V220.3h-3.5zM1149.26 211.4h3.5V226.7h-3.5zM1152.75 219.8h3.5V233.7h-3.5zM1157.45 225.5h3.5V260.2h-3.5zM1172.97 188.9h3.5V194.0h-3.5zM1177.67 191.0h3.5V198.5h-3.5zM1189.52 157.9h3.5V202.3h-3.5zM1201.38 192.2h3.5V204.6h-3.5zM1204.86 210.2h3.5V211.6h-3.5zM1209.57 217.1h3.5V226.7h-3.5zM1217.93 225.5h3.5V232.8h-3.5zM1229.79 185.4h3.5V194.8h-3.5zM1233.27 192.2h3.5V225.0h-3.5zM1241.64 225.5h3.5V233.7h-3.5zM1261.67 158.1h3.5V164.7h-3.5zM1270.04 109.5h3.5V138.6h-3.5zM1278.23 122.5h3.5V157.2h-3.5zM1285.37 119.4h3.5V122.9h-3.5zM1290.08 123.8h3.5V158.6h-3.5zM1293.74 154.6h3.5V164.7h-3.5zM1298.45 161.2h3.5V177.3h-3.5zM1301.93 169.1h3.5V226.9h-3.5zM1310.30 216.1h3.5V244.9h-3.5zM1313.78 252.7h3.5V261.4h-3.5zM1317.43 261.8h3.5V285.0h-3.5zM1330.33 255.3h3.5V257.1h-3.5zM1333.99 253.1h3.5V275.4h-3.5zM1337.48 272.8h3.5V293.7h-3.5zM1345.84 281.3h3.5V286.5h-3.5zM1354.03 257.1h3.5V295.4h-3.5zM1357.69 289.3h3.5V305.4h-3.5zM1362.40 301.0h3.5V347.2h-3.5zM1365.89 345.1h3.5V359.4h-3.5zM1377.74 313.2h3.5V314.9h-3.5zM1382.44 312.9h3.5V332.9h-3.5zM1390.81 335.0h3.5V347.7h-3.5zM1394.30 356.8h3.5V365.5h-3.5zM1397.78 367.2h3.5V386.8h-3.5zM1402.49 394.5h3.5V442.6h-3.5zM1406.15 451.2h3.5V460.4h-3.5zM1410.85 444.4h3.5V457.4h-3.5zM1414.34 456.0h3.5V464.8h-3.5zM1418.00 475.2h3.5V486.5h-3.5zM1430.90 451.2h3.5V470.5h-3.5zM1438.04 468.2h3.5V530.1h-3.5zM1442.66 558.4h3.5V566.6h-3.5zM1446.32 579.3h3.5V625.5h-3.5zM1449.81 609.3h3.5V629.5h-3.5zM1454.51 633.0h3.5V636.5h-3.5zM1466.37 535.8h3.5V561.0h-3.5zM1470.03 578.5h3.5V584.6h-3.5zM1474.73 577.1h3.5V634.2h-3.5zM1490.07 537.2h3.5V569.2h-3.5zM1498.44 502.7h3.5V536.1h-3.5zM1503.14 533.7h3.5V554.6h-3.5zM1506.63 550.2h3.5V553.6h-3.5zM1514.99 538.4h3.5V540.5h-3.5zM1523.18 512.2h3.5V524.1h-3.5zM1526.84 508.2h3.5V550.2h-3.5zM1538.70 547.5h3.5V583.7h-3.5zM1543.40 604.1h3.5V632.5h-3.5zM1555.25 624.3h3.5V647.3h-3.5zM1558.75 668.8h3.5V751.5h-3.5zM1563.45 769.8h3.5V880.2h-3.5zM1578.93 895.0h3.5V917.7h-3.5zM1587.12 869.2h3.5V895.6h-3.5zM1590.78 905.0h3.5V913.9h-3.5zM1602.63 887.2h3.5V900.6h-3.5zM1607.33 892.1h3.5V895.9h-3.5zM1610.82 882.5h3.5V898.2h-3.5zM1619.19 817.1h3.5V882.8h-3.5zM1627.38 883.7h3.5V901.7h-3.5zM1635.74 882.5h3.5V902.9h-3.5zM1639.23 898.2h3.5V904.1h-3.5zM1642.89 909.3h3.5V915.9h-3.5zM1647.60 918.9h3.5V933.0h-3.5zM1659.45 886.0h3.5V900.6h-3.5zM1667.64 871.5h3.5V875.5h-3.5zM1671.30 888.4h3.5V891.5h-3.5zM1679.49 892.9h3.5V895.0h-3.5zM1691.34 859.0h3.5V868.9h-3.5zM1703.13 835.2h3.5V846.1h-3.5zM1707.84 815.1h3.5V823.3h-3.5zM1711.50 816.3h3.5V842.7h-3.5zM1714.98 835.2h3.5V838.6h-3.5zM1723.35 806.4h3.5V823.8h-3.5zM1735.20 803.8h3.5V816.3h-3.5zM1743.39 755.9h3.5V760.7h-3.5zM1748.10 755.5h3.5V763.7h-3.5zM1783.70 576.8h3.5V589.9h-3.5zM1791.89 563.7h3.5V588.5h-3.5zM1795.55 583.8h3.5V616.9h-3.5zM1800.25 611.1h3.5V617.7h-3.5zM1808.45 592.1h3.5V616.0h-3.5zM1815.59 596.8h3.5V598.2h-3.5zM1820.30 604.3h3.5V614.8h-3.5zM1823.96 599.4h3.5V620.4h-3.5zM1828.66 613.7h3.5V650.0h-3.5zM1832.15 649.1h3.5V654.3h-3.5zM1840.52 634.8h3.5V659.6h-3.5zM1844.00 660.4h3.5V683.1h-3.5zM1847.66 685.7h3.5V700.0h-3.5zM1855.85 713.1h3.5V718.8h-3.5zM1867.71 707.2h3.5V711.3h-3.5zM1880.60 678.7h3.5V686.6h-3.5zM1892.45 638.3h3.5V648.8h-3.5zM1900.78 603.1h3.5V615.6h-3.5zM1907.89 590.9h3.5V621.3h-3.5zM1912.70 611.2h3.5V653.3h-3.5zM1920.86 621.7h3.5V627.5h-3.5zM1924.41 615.0h3.5V644.3h-3.5zM1927.97 622.9h3.5V686.5h-3.5zM1936.33 647.8h3.5V668.8h-3.5zM1952.86 553.9h3.5V555.4h-3.5zM1956.41 538.0h3.5V563.8h-3.5zM1972.94 496.2h3.5V506.7h-3.5zM1980.05 510.4h3.5V569.6h-3.5zM1996.55 343.9h3.5V371.6h-3.5zM2013.15 229.8h3.5V234.4h-3.5z" fill="#ef5350"/>
<text x="2141.4" y="1101.6" transform="rotate(0.05 2141.4 1101.6)" font-size="18.5" fill="#262a35" textLength="53.0" lengthAdjust="spacingAndGlyphs">−0.000</text>
<text x="2141.3" y="1040.8" transform="rotate(0.05 2141.3 1040.8)" font-size="18.5" fill="#262a35" textLength="43.5" lengthAdjust="spacingAndGlyphs">0.200</text>
<text x="2141.3" y="979.4" transform="rotate(0.05 2141.3 979.4)" font-size="18.5" fill="#262a35" textLength="43.5" lengthAdjust="spacingAndGlyphs">0.400</text>
<text x="2141.3" y="918.7" transform="rotate(0.05 2141.3 918.7)" font-size="18.5" fill="#262a35" textLength="43.5" lengthAdjust="spacingAndGlyphs">0.600</text>
<text x="2141.3" y="857.3" transform="rotate(0.05 2141.3 857.3)" font-size="18.5" fill="#262a35" textLength="43.5" lengthAdjust="spacingAndGlyphs">0.800</text>
<text x="2141.3" y="796.9" transform="rotate(0.05 2141.3 796.9)" font-size="18.5" fill="#262a35" textLength="43.5" lengthAdjust="spacingAndGlyphs">1.000</text>
<text x="2141.3" y="735.5" transform="rotate(0.05 2141.3 735.5)" font-size="18.5" fill="#262a35" textLength="43.5" lengthAdjust="spacingAndGlyphs">1.200</text>
<text x="2141.3" y="675.1" transform="rotate(0.05 2141.3 675.1)" font-size="18.5" fill="#262a35" textLength="43.5" lengthAdjust="spacingAndGlyphs">1.400</text>
<text x="2141.3" y="614.2" transform="rotate(0.05 2141.3 614.2)" font-size="18.5" fill="#262a35" textLength="43.5" lengthAdjust="spacingAndGlyphs">1.600</text>
<text x="2141.3" y="553.2" transform="rotate(0.05 2141.3 553.2)" font-size="18.5" fill="#262a35" textLength="43.5" lengthAdjust="spacingAndGlyphs">1.800</text>
<text x="2141.3" y="492.2" transform="rotate(0.05 2141.3 492.2)" font-size="18.5" fill="#262a35" textLength="43.5" lengthAdjust="spacingAndGlyphs">2.000</text>
<text x="2141.3" y="431.2" transform="rotate(0.05 2141.3 431.2)" font-size="18.5" fill="#262a35" textLength="43.5" lengthAdjust="spacingAndGlyphs">2.200</text>
<text x="2141.3" y="370.2" transform="rotate(0.05 2141.3 370.2)" font-size="18.5" fill="#262a35" textLength="43.5" lengthAdjust="spacingAndGlyphs">2.400</text>
<text x="2141.3" y="309.3" transform="rotate(0.05 2141.3 309.3)" font-size="18.5" fill="#262a35" textLength="43.5" lengthAdjust="spacingAndGlyphs">2.600</text>
<text x="2141.3" y="247.1" transform="rotate(0.05 2141.3 247.1)" font-size="18.5" fill="#262a35" textLength="43.5" lengthAdjust="spacingAndGlyphs">2.800</text>
<text x="2141.3" y="187.3" transform="rotate(0.05 2141.3 187.3)" font-size="18.5" fill="#262a35" textLength="43.5" lengthAdjust="spacingAndGlyphs">3.000</text>
<text x="2141.3" y="125.8" transform="rotate(0.05 2141.3 125.8)" font-size="18.5" fill="#262a35" textLength="43.5" lengthAdjust="spacingAndGlyphs">3.200</text>
<text x="2141.3" y="65.5" transform="rotate(0.05 2141.3 65.5)" font-size="18.5" fill="#262a35" textLength="43.5" lengthAdjust="spacingAndGlyphs">3.400</text>
<text x="2141.3" y="3.7" transform="rotate(0.05 2141.3 3.7)" font-size="18.5" fill="#262a35" textLength="43.5" lengthAdjust="spacingAndGlyphs">3.600</text>
<path d="M2125.9 221.7H2191.6a2.8 2.8 0 0 1 2.8 2.8V243.7a2.8 2.8 0 0 1 -2.8 2.8H2125.9z" fill="#ef5350"/>
<text x="2140.4" y="240.7" transform="rotate(0.05 2140.4 240.7)" font-size="18.7" fill="#ffffff" stroke="#ffffff" stroke-width="0.3" textLength="44.8" lengthAdjust="spacingAndGlyphs">2.827</text>
<path d="M2125.9 930.9H2191.6a2.8 2.8 0 0 1 2.8 2.8V952.9a2.8 2.8 0 0 1 -2.8 2.8H2125.9z" fill="#ff6d00"/>
<text x="2140.4" y="950.1" transform="rotate(0.05 2140.4 950.1)" font-size="18.7" fill="#ffffff" stroke="#ffffff" stroke-width="0.3" textLength="44.8" lengthAdjust="spacingAndGlyphs">0.500</text>
<text x="46.95" y="1136.45" transform="rotate(0.05 46.95 1136.45)" font-size="17.4" fill="#131722" stroke="#131722" stroke-width="0.75" stroke-linejoin="round" textLength="40.4" lengthAdjust="spacingAndGlyphs">2013</text>
<text x="255.25" y="1136.45" transform="rotate(0.05 255.25 1136.45)" font-size="17.4" fill="#131722" stroke="#131722" stroke-width="0.75" stroke-linejoin="round" textLength="40.4" lengthAdjust="spacingAndGlyphs">2014</text>
<text x="464.55" y="1136.45" transform="rotate(0.05 464.55 1136.45)" font-size="17.4" fill="#131722" stroke="#131722" stroke-width="0.75" stroke-linejoin="round" textLength="40.4" lengthAdjust="spacingAndGlyphs">2015</text>
<text x="672.85" y="1136.45" transform="rotate(0.05 672.85 1136.45)" font-size="17.4" fill="#131722" stroke="#131722" stroke-width="0.75" stroke-linejoin="round" textLength="40.4" lengthAdjust="spacingAndGlyphs">2016</text>
<text x="882.35" y="1136.45" transform="rotate(0.05 882.35 1136.45)" font-size="17.4" fill="#131722" stroke="#131722" stroke-width="0.75" stroke-linejoin="round" textLength="40.4" lengthAdjust="spacingAndGlyphs">2017</text>
<text x="1090.85" y="1136.45" transform="rotate(0.05 1090.85 1136.45)" font-size="17.4" fill="#131722" stroke="#131722" stroke-width="0.75" stroke-linejoin="round" textLength="40.4" lengthAdjust="spacingAndGlyphs">2018</text>
<text x="1303.35" y="1136.45" transform="rotate(0.05 1303.35 1136.45)" font-size="17.4" fill="#131722" stroke="#131722" stroke-width="0.75" stroke-linejoin="round" textLength="40.4" lengthAdjust="spacingAndGlyphs">2019</text>
<text x="1512.05" y="1136.45" transform="rotate(0.05 1512.05 1136.45)" font-size="17.4" fill="#131722" stroke="#131722" stroke-width="0.75" stroke-linejoin="round" textLength="40.4" lengthAdjust="spacingAndGlyphs">2020</text>
<text x="1721.15" y="1136.45" transform="rotate(0.05 1721.15 1136.45)" font-size="17.4" fill="#131722" stroke="#131722" stroke-width="0.75" stroke-linejoin="round" textLength="40.4" lengthAdjust="spacingAndGlyphs">2021</text>
<text x="1929.75" y="1136.45" transform="rotate(0.05 1929.75 1136.45)" font-size="17.4" fill="#131722" stroke="#131722" stroke-width="0.75" stroke-linejoin="round" textLength="40.4" lengthAdjust="spacingAndGlyphs">2022</text>
<text x="-4.7" y="22.7" transform="rotate(0.05 -4.7 22.7)" font-size="18.0" fill="#131722" textLength="41.8" lengthAdjust="spacingAndGlyphs">CBOE</text>
<text x="43.0" y="22.7" transform="rotate(0.05 43.0 22.7)" font-size="18.0" fill="#131722" textLength="18.6" lengthAdjust="spacingAndGlyphs">10</text>
<text x="66.8" y="22.7" transform="rotate(0.05 66.8 22.7)" font-size="18.0" fill="#131722" textLength="21.2" lengthAdjust="spacingAndGlyphs">YR</text>
<text x="92.7" y="22.7" transform="rotate(0.05 92.7 22.7)" font-size="18.0" fill="#131722" textLength="79.9" lengthAdjust="spacingAndGlyphs">TREASURY</text>
<text x="178.9" y="22.7" transform="rotate(0.05 178.9 22.7)" font-size="18.0" fill="#131722" textLength="40.9" lengthAdjust="spacingAndGlyphs">NOTE</text>
<text x="228.0" y="22.7" transform="rotate(0.05 228.0 22.7)" font-size="18.0" fill="#131722" textLength="47.4" lengthAdjust="spacingAndGlyphs">YIELD,</text>
<text x="284.2" y="22.7" transform="rotate(0.05 284.2 22.7)" font-size="18.0" fill="#131722" textLength="25.7" lengthAdjust="spacingAndGlyphs">1W,</text>
<text x="317.0" y="22.7" transform="rotate(0.05 317.0 22.7)" font-size="18.0" fill="#131722" textLength="30.3" lengthAdjust="spacingAndGlyphs">TVC</text>
<text x="360.0" y="22.7" transform="rotate(0.05 360.0 22.7)" font-size="18.0" fill="#131722" textLength="11.1" lengthAdjust="spacingAndGlyphs">O</text>
<text x="371.6" y="22.7" transform="rotate(0.05 371.6 22.7)" font-size="18.0" fill="#ef5350" textLength="42.8" lengthAdjust="spacingAndGlyphs">2.837</text>
<text x="426.9" y="22.7" transform="rotate(0.05 426.9 22.7)" font-size="18.0" fill="#131722" textLength="9.4" lengthAdjust="spacingAndGlyphs">H</text>
<text x="437.7" y="22.7" transform="rotate(0.05 437.7 22.7)" font-size="18.0" fill="#ef5350" textLength="43.1" lengthAdjust="spacingAndGlyphs">2.843</text>
<text x="492.8" y="22.7" transform="rotate(0.05 492.8 22.7)" font-size="18.0" fill="#131722" textLength="7.4" lengthAdjust="spacingAndGlyphs">L</text>
<text x="501.7" y="22.7" transform="rotate(0.05 501.7 22.7)" font-size="18.0" fill="#ef5350" textLength="42.8" lengthAdjust="spacingAndGlyphs">2.760</text>
<text x="555.5" y="22.7" transform="rotate(0.05 555.5 22.7)" font-size="18.0" fill="#131722" textLength="9.6" lengthAdjust="spacingAndGlyphs">C</text>
<text x="566.0" y="22.7" transform="rotate(0.05 566.0 22.7)" font-size="18.0" fill="#ef5350" textLength="42.9" lengthAdjust="spacingAndGlyphs">2.827</text>
<text x="621.1" y="22.7" transform="rotate(0.05 621.1 22.7)" font-size="18.0" fill="#ef5350" textLength="52.0" lengthAdjust="spacingAndGlyphs">−0.078</text>
<text x="679.9" y="22.7" transform="rotate(0.05 679.9 22.7)" font-size="18.0" fill="#ef5350" textLength="65.1" lengthAdjust="spacingAndGlyphs">(−2.69%)</text>
<text x="-5.2" y="47.8" transform="rotate(0.05 -5.2 47.8)" font-size="18.0" fill="#131722" textLength="63.2" lengthAdjust="spacingAndGlyphs">USINTR,</text>
<text x="64.6" y="47.8" transform="rotate(0.05 64.6 47.8)" font-size="18.0" fill="#131722" textLength="91.6" lengthAdjust="spacingAndGlyphs">ECONOMICS</text>
<text x="167.1" y="47.8" transform="rotate(0.05 167.1 47.8)" font-size="18.0" fill="#ff6d00" textLength="34.0" lengthAdjust="spacingAndGlyphs">0.50</text>
<text x="212.9" y="47.8" transform="rotate(0.05 212.9 47.8)" font-size="18.0" fill="#ff6d00" textLength="42.3" lengthAdjust="spacingAndGlyphs">+0.25</text>
<text x="262.5" y="47.8" transform="rotate(0.05 262.5 47.8)" font-size="18.0" fill="#ff6d00" textLength="84.5" lengthAdjust="spacingAndGlyphs">(+100.00%)</text>
</svg>
</body></html>
